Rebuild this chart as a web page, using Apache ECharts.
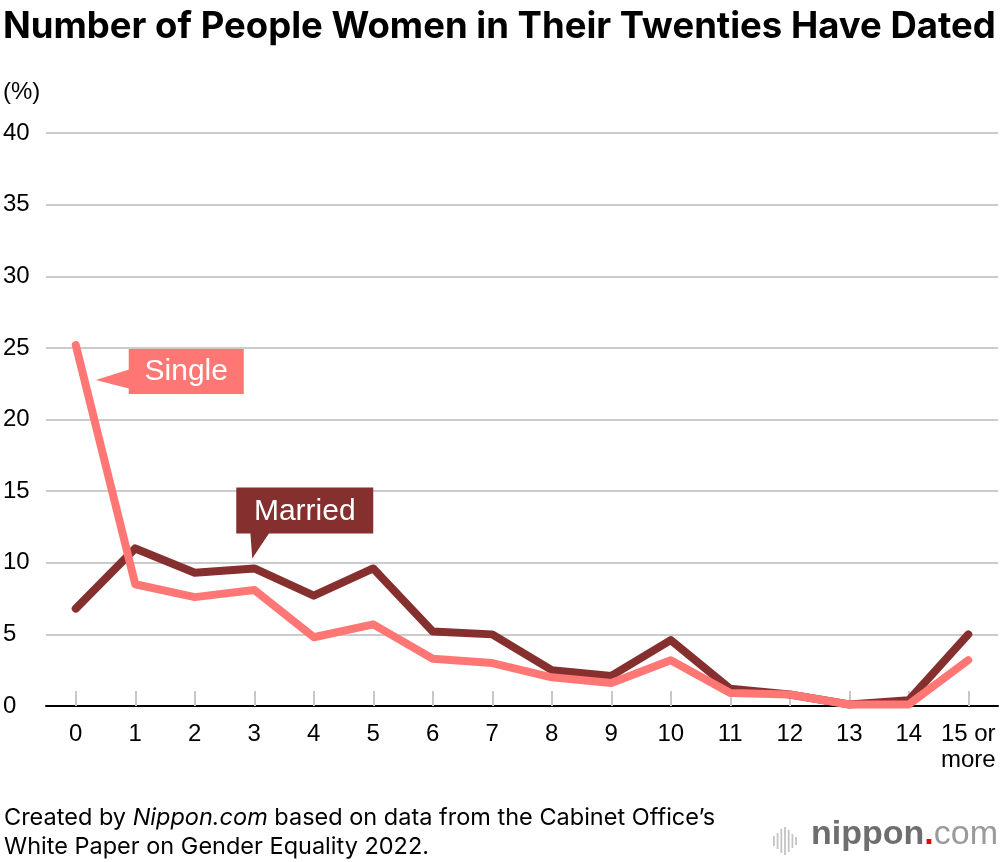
<!DOCTYPE html>
<html><head><meta charset="utf-8">
<script src="https://cdn.jsdelivr.net/npm/echarts@6/dist/echarts.min.js"></script>
<style>html,body{margin:0;padding:0;background:#fff}#c{width:1000px;height:862px}</style>
</head><body><div id="c"></div>
<script>
const categories = ['0','1','2','3','4','5','6','7','8','9','10','11','12','13','14','15 or\nmore'];
const single = [25.2, 8.5, 7.6, 8.1, 4.8, 5.7, 3.3, 3.0, 2.0, 1.6, 3.2, 0.9, 0.8, 0.1, 0.1, 3.2];
const married = [6.8, 11.0, 9.3, 9.6, 7.7, 9.6, 5.2, 5.0, 2.5, 2.1, 4.6, 1.2, 0.8, 0.1, 0.4, 5.0];
const yTicks = [0, 5, 10, 15, 20, 25, 30, 35, 40];

const FONT = 'Liberation Sans';
const WIDE = 'Inter';
const SINGLE_C = '#ff7775';
const MARRIED_C = '#862f2f';

const chart = echarts.init(document.getElementById('c'), null, {renderer: 'canvas'});
chart.setOption({
  animation: false,
  textStyle: {fontFamily: FONT},
  grid: {left: 46, right: 2, top: 133, bottom: 156, containLabel: false},
  xAxis: {
    type: 'category', data: categories, boundaryGap: true,
    axisLine: {lineStyle: {color: '#000', width: 2}},
    axisTick: {show: true, inside: true, alignWithLabel: true, length: 15, lineStyle: {color: '#c8c8c8', width: 2}},
    axisLabel: {color: '#000', fontSize: 24, margin: 15, lineHeight: 26, fontFamily: FONT, interval: 0}
  },
  yAxis: {
    type: 'value', min: yTicks[0], max: yTicks[yTicks.length - 1], interval: 5,
    axisLine: {show: false}, axisTick: {show: false},
    splitLine: {lineStyle: {color: '#cccccc', width: 2}},
    axisLabel: {color: '#000', fontSize: 24, align: 'left', margin: 43, fontFamily: FONT}
  },
  series: [
    {name: 'Married', type: 'line', data: married, symbol: 'none', z: 3,
     lineStyle: {color: MARRIED_C, width: 8, cap: 'round', join: 'round'}},
    {name: 'Single', type: 'line', data: single, symbol: 'none', z: 4,
     lineStyle: {color: SINGLE_C, width: 8, cap: 'round', join: 'round'}}
  ]
});

function annotate() {
  const ps = chart.convertToPixel({seriesIndex: 1}, [0, single[0]]);
  const pm = chart.convertToPixel({seriesIndex: 0}, [3, married[3]]);
  const g = [];
  g.push({type: 'text', x: 3, y: 27, style: {text: 'Number of People Women in Their Twenties Have Dated', font: 'bold 36.5px "' + WIDE + '"', fill: '#000', verticalAlign: 'middle'}});
  g.push({type: 'text', left: 3, top: 80, style: {text: '(%)', font: '24px "' + FONT + '"', fill: '#000'}});
  g.push({type: 'text', x: 4, y: 818, style: {
    rich: {n: {font: '23.5px "' + WIDE + '"', fill: '#000'}, i: {font: 'italic 23.5px "' + WIDE + '"', fill: '#000'}},
    text: '{n|Created by }{i|Nippon.com}{n| based on data from the Cabinet Office’s}', verticalAlign: 'middle'}});
  g.push({type: 'text', x: 4, y: 847, style: {text: 'White Paper on Gender Equality 2022.', font: '23.5px "' + WIDE + '"', fill: '#000', verticalAlign: 'middle'}});
  g.push({type: 'text', right: 2, top: 818, style: {
    rich: {b: {font: 'bold 34px "' + FONT + '"', fill: '#6e6e6e'}, r: {font: 'bold 34px "' + FONT + '"', fill: '#e60012'}, c: {font: '34px "' + FONT + '"', fill: '#9a9a9a'}},
    text: '{b|nippon}{r|.}{c|com}'}});
  // logo bars
  const barH = [10, 16, 24, 28, 22, 14, 8];
  barH.forEach(function (h, i) {
    g.push({type: 'rect', shape: {x: 773 + i * 3.7, y: 841 - h / 2, width: 1.8, height: h}, style: {fill: '#c4c4c4'}});
  });
  // Single label box
  const sx = ps[0] + 53, sy = ps[1] + 4;
  g.push({type: 'polygon', shape: {points: [[ps[0] + 20, ps[1] + 35], [sx + 2, sy + 20], [sx + 2, sy + 40]]}, style: {fill: SINGLE_C}, z: 10});
  g.push({type: 'rect', shape: {x: sx, y: sy, width: 115, height: 45}, style: {fill: SINGLE_C}, z: 10});
  g.push({type: 'text', x: sx + 57.5, y: sy + 23, style: {text: 'Single', font: '30px "' + FONT + '"', fill: '#fff', align: 'center', verticalAlign: 'middle'}, z: 11});
  // Married label box
  const mx = pm[0] - 18, my = pm[1] - 81;
  g.push({type: 'polygon', shape: {points: [[pm[0] - 2, pm[1] - 10], [mx + 14, my + 44], [mx + 34, my + 44]]}, style: {fill: MARRIED_C}, z: 10});
  g.push({type: 'rect', shape: {x: mx, y: my, width: 137, height: 46}, style: {fill: MARRIED_C}, z: 10});
  g.push({type: 'text', x: mx + 68.5, y: my + 24, style: {text: 'Married', font: '30px "' + FONT + '"', fill: '#fff', align: 'center', verticalAlign: 'middle'}, z: 11});
  chart.setOption({graphic: g});
}
annotate();
</script></body></html>
